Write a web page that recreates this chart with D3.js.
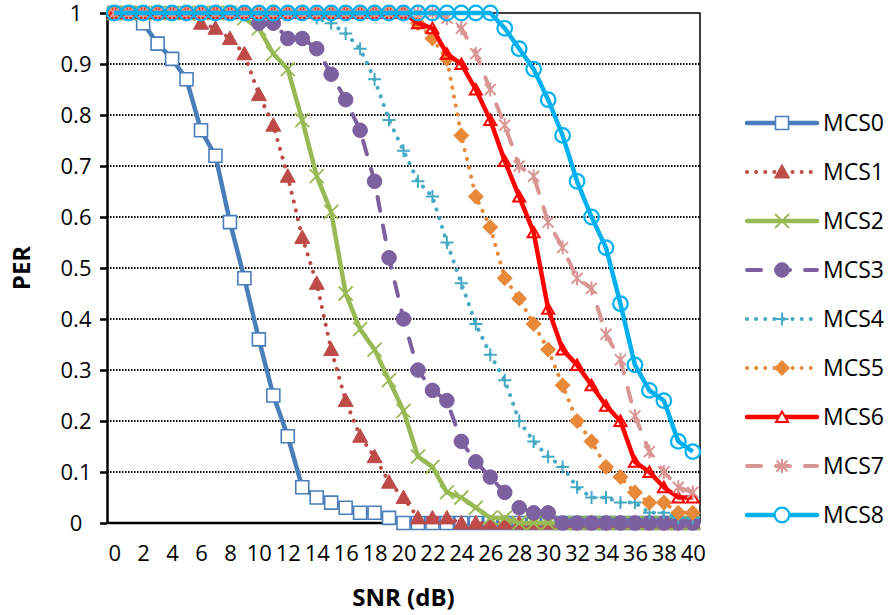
<!DOCTYPE html>
<html>
<head>
<meta charset="utf-8">
<script src="https://cdn.jsdelivr.net/npm/d3@7"></script>
<style>
  body { margin: 0; background: #fff; }
  svg { display: block; font-family: "Open Sans", "Liberation Sans", sans-serif; }
</style>
</head>
<body>
<div id="chart"></div>
<script>
// SNR categories (dB) and axis ticks
const snr = [0, 1, 2, 3, 4, 5, 6, 7, 8, 9, 10, 11, 12, 13, 14, 15, 16, 17, 18, 19, 20,
             21, 22, 23, 24, 25, 26, 27, 28, 29, 30, 31, 32, 33, 34, 35, 36, 37, 38, 39, 40];
const xTicks = [0, 2, 4, 6, 8, 10, 12, 14, 16, 18, 20, 22, 24, 26, 28, 30, 32, 34, 36, 38, 40];
const yTicks = [0, 0.1, 0.2, 0.3, 0.4, 0.5, 0.6, 0.7, 0.8, 0.9, 1];

// PER per MCS
const mcs0 = [1, 1, 0.98, 0.94, 0.91, 0.87, 0.77, 0.72, 0.59, 0.48, 0.36, 0.25, 0.17, 0.07, 0.05, 0.04, 0.03, 0.02, 0.02, 0.01,
              0, 0, 0, 0, 0, 0, 0, 0, 0, 0, 0, 0, 0, 0, 0, 0, 0, 0, 0, 0, 0];
const mcs1 = [1, 1, 1, 1, 1, 1, 0.98, 0.97, 0.95, 0.92, 0.84, 0.78, 0.68, 0.56, 0.47, 0.34, 0.24, 0.17, 0.13, 0.08,
              0.05, 0.01, 0.01, 0.01, 0, 0, 0, 0, 0, 0, 0, 0, 0, 0, 0, 0, 0, 0, 0, 0, 0];
const mcs2 = [1, 1, 1, 1, 1, 1, 1, 1, 1, 0.99, 0.97, 0.92, 0.89, 0.79, 0.68, 0.61, 0.45, 0.38, 0.34, 0.28,
              0.22, 0.13, 0.11, 0.06, 0.05, 0.03, 0.01, 0.01, 0, 0, 0, 0, 0, 0, 0, 0, 0, 0, 0, 0, 0];
const mcs3 = [1, 1, 1, 1, 1, 1, 1, 1, 1, 1, 0.98, 0.98, 0.95, 0.95, 0.93, 0.88, 0.83, 0.77, 0.67, 0.52,
              0.40, 0.30, 0.26, 0.24, 0.16, 0.12, 0.09, 0.06, 0.03, 0.02, 0.02, 0, 0, 0, 0, 0, 0, 0, 0, 0, 0];
const mcs4 = [1, 1, 1, 1, 1, 1, 1, 1, 1, 1, 1, 1, 1, 1, 0.99, 0.98, 0.96, 0.93, 0.87, 0.79,
              0.73, 0.67, 0.64, 0.55, 0.47, 0.39, 0.33, 0.28, 0.20, 0.16, 0.13, 0.11, 0.07, 0.05, 0.05, 0.04, 0.04, 0.02, 0.02, 0.01, 0.01];
const mcs5 = [1, 1, 1, 1, 1, 1, 1, 1, 1, 1, 1, 1, 1, 1, 1, 1, 1, 1, 1, 1,
              1, 0.98, 0.95, 0.91, 0.76, 0.64, 0.58, 0.48, 0.44, 0.39, 0.34, 0.27, 0.20, 0.16, 0.11, 0.09, 0.06, 0.04, 0.04, 0.02, 0.02];
const mcs6 = [1, 1, 1, 1, 1, 1, 1, 1, 1, 1, 1, 1, 1, 1, 1, 1, 1, 1, 1, 1,
              1, 0.98, 0.97, 0.92, 0.90, 0.85, 0.79, 0.71, 0.64, 0.57, 0.42, 0.34, 0.31, 0.27, 0.23, 0.20, 0.12, 0.10, 0.07, 0.05, 0.05];
const mcs7 = [1, 1, 1, 1, 1, 1, 1, 1, 1, 1, 1, 1, 1, 1, 1, 1, 1, 1, 1, 1,
              1, 1, 1, 0.99, 0.97, 0.92, 0.85, 0.78, 0.70, 0.68, 0.59, 0.54, 0.48, 0.46, 0.37, 0.32, 0.21, 0.14, 0.10, 0.07, 0.06];
const mcs8 = [1, 1, 1, 1, 1, 1, 1, 1, 1, 1, 1, 1, 1, 1, 1, 1, 1, 1, 1, 1,
              1, 1, 1, 1, 1, 1, 1, 0.97, 0.93, 0.89, 0.83, 0.76, 0.67, 0.60, 0.54, 0.43, 0.31, 0.26, 0.24, 0.16, 0.14];

const names = ["MCS0", "MCS1", "MCS2", "MCS3", "MCS4", "MCS5", "MCS6", "MCS7", "MCS8"];
const values = [mcs0, mcs1, mcs2, mcs3, mcs4, mcs5, mcs6, mcs7, mcs8];

// look of each series (line dash + marker)
const DOT = "0.1 9", DASH = "14 15";
const styles = [
  { color: "#4A7EBB", dash: null, lw: 4.5, marker: "square", fill: "#fff", mw: 1.6 },
  { color: "#BE4B48", dash: DOT,  lw: 4,   marker: "triangle", fill: "#BE4B48", mw: 1 },
  { color: "#98B954", dash: null, lw: 4.5, marker: "x", fill: "none", mw: 1.8 },
  { color: "#7D60A0", dash: DASH, lw: 4,   marker: "circle", fill: "#7D60A0", mw: 1 },
  { color: "#46AAC5", dash: DOT,  lw: 4,   marker: "plus", fill: "none", mw: 2 },
  { color: "#E8893A", dash: DOT,  lw: 4,   marker: "diamond", fill: "#E8893A", mw: 1 },
  { color: "#FF0000", dash: null, lw: 4.5, marker: "opentri", fill: "none", mw: 2 },
  { color: "#D99694", dash: DASH, lw: 4,   marker: "asterisk", fill: "none", mw: 2 },
  { color: "#00B0F0", dash: null, lw: 4.5, marker: "ring", fill: "none", mw: 2.2 }
];

function markerPath(type) {
  const circ = r => `M${r},0A${r},${r} 0 1,1 ${-r},0A${r},${r} 0 1,1 ${r},0Z`;
  switch (type) {
    case "square": return "M-6.5,-6.5H6.5V6.5H-6.5Z";
    case "triangle": return "M0,-7.5L7.5,6L-7.5,6Z";
    case "x": return "M-7,-7L7,7M-7,7L7,-7";
    case "circle": return circ(7.3);
    case "plus": return "M-6.5,0H6.5M0,-6.5V6.5";
    case "diamond": return "M0,-7.5L7.5,0L0,7.5L-7.5,0Z";
    case "opentri": return "M0,-5.5L6,5L-6,5Z";
    case "asterisk": return "M-5.5,-5.5L5.5,5.5M-5.5,5.5L5.5,-5.5M0,-7V7";
    case "ring": return circ(7.3);
  }
}

const width = 888, height = 615;
const plotL = 107, plotR = 700, plotT = 13, plotB = 523;

const svg = d3.select("#chart").append("svg")
  .attr("width", width)
  .attr("height", height);

const x = d3.scalePoint().domain(snr).range([plotL, plotR]).padding(0.5);
const y = d3.scaleLinear().domain([0, 1]).range([plotB, plotT]);

// dotted gridlines
svg.append("g")
  .selectAll("line")
  .data(yTicks.filter(d => d > 0 && d < 1))
  .enter().append("line")
  .attr("x1", plotL).attr("x2", plotR)
  .attr("y1", d => y(d)).attr("y2", d => y(d))
  .attr("stroke", "#000")
  .attr("stroke-width", 1.8)
  .attr("stroke-dasharray", "1.5 1.5");

// plot border (top and right)
svg.append("path")
  .attr("d", `M${plotL},${y(1)}H${plotR}V${plotB}`)
  .attr("fill", "none")
  .attr("stroke", "#000")
  .attr("stroke-width", 1.5);

// y axis
const yAxis = svg.append("g")
  .attr("transform", `translate(${plotL},0)`)
  .call(d3.axisLeft(y).tickValues(yTicks).tickSize(7).tickSizeOuter(0).tickFormat(d3.format("")));
yAxis.select(".domain").attr("stroke-width", 2.5);
yAxis.selectAll(".tick line").attr("stroke-width", 2.5);
yAxis.selectAll(".tick text")
  .attr("x", -31)
  .attr("text-anchor", "middle")
  .attr("dy", "0.35em")
  .style("font-size", "22px")
  .style("font-family", "'Open Sans', sans-serif")
  .attr("fill", "#000");

// x axis
const xAxis = svg.append("g")
  .attr("transform", `translate(0,${plotB})`)
  .call(d3.axisBottom(x).tickValues(xTicks).tickSize(0).tickSizeOuter(0));
xAxis.select(".domain").attr("stroke-width", 2.5).attr("d", `M${plotL},0H${plotR}`);
xAxis.selectAll(".tick text")
  .attr("y", 30)
  .attr("dy", "0.35em")
  .style("font-size", "22px")
  .style("font-family", "'Open Sans', sans-serif")
  .attr("fill", "#000");

// series
const line = d3.line().x((d, i) => x(snr[i])).y(d => y(d));

values.forEach((vals, k) => {
  const s = styles[k];
  const g = svg.append("g").attr("class", "series");
  g.append("path")
    .datum(vals)
    .attr("d", line)
    .attr("fill", "none")
    .attr("stroke", s.color)
    .attr("stroke-width", s.lw)
    .attr("stroke-linecap", s.dash ? "round" : "butt")
    .attr("stroke-linejoin", "round")
    .attr("stroke-dasharray", s.dash);
  g.selectAll(".mk")
    .data(vals)
    .enter().append("path")
    .attr("class", "mk")
    .attr("transform", (d, i) => `translate(${x(snr[i])},${y(d)})`)
    .attr("d", markerPath(s.marker))
    .attr("fill", s.fill)
    .attr("stroke", s.color)
    .attr("stroke-width", s.mw);
});

// axis titles
svg.append("text")
  .attr("x", (plotL + plotR) / 2)
  .attr("y", 598)
  .attr("dy", "0.35em")
  .attr("text-anchor", "middle")
  .style("font-size", "24px")
  .style("font-weight", "bold")
  .text("SNR (dB)");

svg.append("text")
  .attr("transform", `translate(22,${(plotT + plotB) / 2}) rotate(-90)`)
  .attr("dy", "0.35em")
  .attr("text-anchor", "middle")
  .style("font-size", "24px")
  .style("font-weight", "bold")
  .text("PER");

// legend
const legend = svg.append("g");
names.forEach((name, k) => {
  const s = styles[k];
  const ly = 123 + k * 49;
  const item = legend.append("g");
  item.append("line")
    .attr("x1", 747).attr("x2", 817)
    .attr("y1", ly).attr("y2", ly)
    .attr("stroke", s.color)
    .attr("stroke-width", s.lw)
    .attr("stroke-linecap", "round")
    .attr("stroke-dasharray", s.dash);
  item.append("path")
    .attr("transform", `translate(782,${ly})`)
    .attr("d", markerPath(s.marker))
    .attr("fill", s.fill === "none" ? "#fff" : s.fill)
    .attr("stroke", s.color)
    .attr("stroke-width", s.mw);
  item.append("text")
    .attr("x", 823)
    .attr("y", ly)
    .attr("dy", "0.35em")
    .style("font-size", "23px")
    .text(name);
});
</script>
</body>
</html>
